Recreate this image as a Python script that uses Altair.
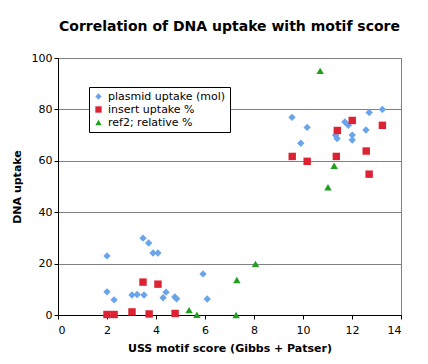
import altair as alt
import pandas as pd

series_names = ["plasmid uptake (mol)", "insert uptake %", "ref2; relative %"]

plasmid_x = [2.0, 2.0, 2.29, 3.02, 3.23, 3.51, 3.47, 3.70, 3.88, 4.08, 4.29, 4.41, 4.77, 4.84, 5.92, 6.09,
             9.55, 10.17, 9.91, 11.71, 11.85, 11.33, 11.39, 12.01, 12.01, 12.70, 13.24, 12.57]
plasmid_y = [23.0, 9.0, 5.9, 7.8, 8.0, 7.8, 29.9, 28.0, 24.1, 24.1, 6.7, 8.9, 7.0, 6.3, 16.0, 6.2,
             76.9, 73.0, 66.8, 75.1, 73.8, 69.9, 68.7, 70.0, 68.1, 78.8, 80.0, 72.0]

insert_x = [2.0, 2.29, 3.02, 3.47, 3.72, 4.08, 4.78, 9.56, 10.17, 11.36, 11.40, 12.01, 12.58, 13.24, 12.70]
insert_y = [0.2, 0.2, 1.2, 12.8, 0.4, 12.0, 0.6, 61.7, 59.8, 61.7, 71.8, 75.7, 63.8, 73.8, 54.8]

ref2_x = [5.35, 5.67, 7.30, 7.27, 8.06, 10.70, 11.27, 11.02]
ref2_y = [1.9, 0.1, 13.6, 0.0, 19.9, 95.0, 58.1, 49.7]

x_ticks = [0, 2, 4, 6, 8, 10, 12, 14]
y_ticks = [0, 20, 40, 60, 80, 100]

rows = []
for name, xs, ys in zip(series_names, [plasmid_x, insert_x, ref2_x], [plasmid_y, insert_y, ref2_y]):
    for x, y in zip(xs, ys):
        rows.append({"series": name, "x": x, "y": y})
df = pd.DataFrame(rows)

FONT = "DejaVu Sans"

chart = alt.Chart(df).mark_point(filled=True, opacity=1, size=55).encode(
    x=alt.X("x:Q", scale=alt.Scale(domain=[0, 14], nice=False),
            axis=alt.Axis(values=x_ticks, grid=False, title="USS motif score (Gibbs + Patser)",
                          labelPadding=5, titlePadding=7)),
    y=alt.Y("y:Q", scale=alt.Scale(domain=[0, 100], nice=False),
            axis=alt.Axis(values=y_ticks, grid=True, title="DNA uptake", titlePadding=9)),
    color=alt.Color("series:N",
                    scale=alt.Scale(domain=series_names, range=["#6aa5ec", "#dd2233", "#1fa01f"]),
                    legend=alt.Legend(title=None, orient="none", legendX=31, legendY=29,
                                      strokeColor="black", fillColor="white", padding=4,
                                      labelFont=FONT, labelFontSize=11, labelColor="black",
                                      symbolSize=40, rowPadding=1, labelOffset=4)),
    shape=alt.Shape("series:N",
                    scale=alt.Scale(domain=series_names, range=["diamond", "square", "triangle-up"]),
                    legend=None),
).properties(
    width=343,
    height=257,
    padding={"left": 50, "top": 50, "right": 19, "bottom": 41},
    autosize=alt.AutoSizeParams(type="none"),
    title=alt.TitleParams("Correlation of DNA uptake with motif score", font=FONT, fontSize=14,
                          fontWeight="bold", color="black", anchor="middle", offset=18),
).configure_view(
    stroke="#808080", strokeWidth=1
).configure_axis(
    domainColor="black", tickColor="black", tickSize=4,
    labelFont=FONT, labelFontSize=11, labelColor="black",
    titleFont=FONT, titleFontSize=11, titleFontWeight="bold", titleColor="black",
    gridColor="#808080", gridWidth=1,
)

chart.save("out.html", embed_options={"renderer": "svg", "actions": False})
